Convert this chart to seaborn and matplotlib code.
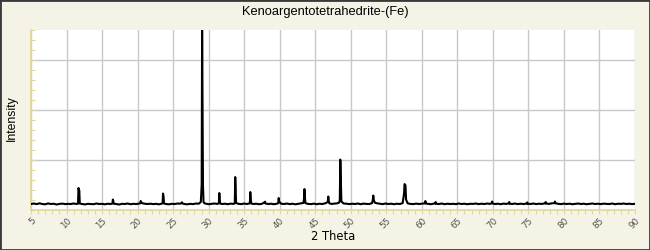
import matplotlib
matplotlib.use("Agg")
import matplotlib.pyplot as plt
import seaborn as sns
import pandas as pd
from matplotlib.patches import Rectangle
from matplotlib.ticker import MultipleLocator

title = "Kenoargentotetrahedrite-(Fe)"
x_label = "2 Theta"
y_label = "Intensity"
x_ticks = [5, 10, 15, 20, 25, 30, 35, 40, 45, 50, 55, 60, 65, 70, 75, 80, 85, 90]

two_theta = [
    5.0, 5.4, 5.8, 6.2, 6.6, 7.0, 7.4, 7.8, 8.2, 8.6,
    9.0, 9.4, 9.8, 10.2, 10.6, 11.0, 11.4, 11.62, 11.68, 11.74,
    11.8, 11.86, 12.2, 12.6, 13.0, 13.4, 13.8, 14.2, 14.6, 15.0,
    15.4, 15.8, 16.2, 16.46, 16.52, 16.58, 16.66, 17.0, 17.4, 17.8,
    18.2, 18.6, 19.0, 19.4, 19.8, 20.2, 20.38, 20.44, 20.52, 20.7,
    21.0, 21.4, 21.8, 22.2, 22.6, 23.0, 23.3, 23.52, 23.58, 23.64,
    23.72, 24.0, 24.4, 24.8, 25.2, 25.6, 26.0, 26.18, 26.25, 26.32,
    26.6, 27.0, 27.4, 27.8, 28.2, 28.6, 28.9, 29.02, 29.08, 29.14,
    29.2, 29.28, 29.4, 29.7, 30.0, 30.4, 30.8, 31.2, 31.44, 31.5,
    31.56, 31.62, 31.9, 32.3, 32.7, 33.1, 33.5, 33.68, 33.74, 33.8,
    33.86, 34.2, 34.6, 35.0, 35.4, 35.8, 35.86, 35.92, 36.0, 36.3,
    36.7, 37.1, 37.5, 37.86, 37.93, 38.0, 38.4, 38.8, 39.2, 39.6,
    39.8, 39.86, 39.92, 40.2, 40.6, 41.0, 41.4, 41.8, 42.2, 42.6,
    43.0, 43.34, 43.42, 43.48, 43.54, 43.62, 44.0, 44.4, 44.8, 45.2,
    45.6, 46.0, 46.4, 46.76, 46.84, 46.9, 46.98, 47.3, 47.7, 48.1,
    48.38, 48.46, 48.53, 48.6, 48.68, 49.0, 49.4, 49.8, 50.2, 50.6,
    51.0, 51.4, 51.8, 52.2, 52.6, 53.0, 53.1, 53.17, 53.24, 53.4,
    53.7, 54.1, 54.5, 54.9, 55.3, 55.7, 56.1, 56.5, 56.9, 57.3,
    57.5, 57.57, 57.63, 57.7, 57.78, 58.0, 58.4, 58.8, 59.2, 59.6,
    60.0, 60.44, 60.5, 60.56, 60.9, 61.3, 61.7, 61.9, 61.95, 62.0,
    62.4, 62.8, 63.2, 63.6, 64.0, 64.4, 64.8, 65.2, 65.6, 66.0,
    66.4, 66.8, 67.2, 67.6, 68.0, 68.4, 68.8, 69.2, 69.6, 69.85,
    69.9, 69.95, 70.3, 70.7, 71.1, 71.5, 71.9, 72.25, 72.3, 72.35,
    72.7, 73.1, 73.5, 73.9, 74.3, 74.8, 74.84, 74.9, 75.3, 75.7,
    76.1, 76.5, 76.9, 77.38, 77.43, 77.48, 77.9, 78.3, 78.68, 78.74,
    78.8, 79.2, 79.6, 80.0, 80.4, 80.8, 81.2, 81.6, 82.0, 82.4,
    82.8, 83.2, 83.6, 84.0, 84.4, 84.8, 85.2, 85.6, 86.0, 86.4,
    86.8, 87.2, 87.6, 88.0, 88.4, 88.8, 89.2, 89.6, 90.0,
]

intensity = [
    55, 60, 54, 62, 55, 52, 61, 55, 58, 50,
    56, 59, 54, 57, 55, 60, 56, 58, 215, 200,
    190, 60, 55, 51, 57, 55, 53, 60, 55, 57,
    52, 58, 55, 60, 100, 85, 58, 55, 50, 57,
    55, 60, 53, 57, 55, 59, 62, 85, 70, 62,
    58, 55, 58, 54, 57, 52, 57, 62, 160, 140,
    60, 55, 52, 57, 55, 60, 58, 66, 72, 60,
    55, 52, 57, 54, 60, 58, 75, 250, 1850, 1060,
    250, 75, 62, 58, 53, 57, 60, 56, 62, 165,
    100, 60, 55, 58, 53, 59, 56, 62, 325, 215,
    65, 57, 54, 60, 55, 62, 175, 110, 60, 55,
    58, 53, 57, 72, 78, 60, 55, 58, 53, 58,
    64, 115, 80, 58, 55, 60, 54, 58, 52, 57,
    61, 66, 110, 205, 130, 64, 56, 54, 59, 53,
    58, 55, 62, 75, 130, 85, 62, 56, 59, 62,
    70, 100, 500, 300, 80, 60, 58, 54, 58, 55,
    60, 53, 59, 56, 55, 64, 95, 140, 95, 68,
    62, 58, 54, 60, 55, 58, 53, 58, 55, 64,
    160, 255, 250, 240, 100, 62, 56, 54, 59, 55,
    58, 62, 85, 60, 56, 53, 59, 62, 75, 57,
    55, 60, 53, 58, 55, 57, 54, 60, 55, 58,
    53, 57, 56, 60, 54, 58, 55, 60, 56, 64,
    80, 60, 55, 58, 53, 59, 56, 62, 75, 58,
    55, 60, 54, 58, 55, 60, 72, 57, 55, 60,
    54, 58, 56, 62, 75, 60, 56, 62, 64, 80,
    62, 57, 54, 59, 55, 58, 53, 57, 60, 55,
    58, 53, 57, 60, 55, 58, 54, 59, 56, 55,
    60, 53, 58, 56, 60, 55, 58, 54, 57,
]

df = pd.DataFrame({"two_theta": two_theta, "intensity": intensity})

sns.set_theme(style="white")
plt.rcParams["font.family"] = ["DejaVu Sans"]

bg = "#f5f3e6"
axis_col = "#e0d89a"
grid_col = "#c8c8c8"

fig = plt.figure(figsize=(6.5, 2.5), dpi=100, facecolor=bg)
ax = fig.add_axes([31 / 650, (250 - 209.5) / 250, 604 / 650, 179.5 / 250])
ax.set_facecolor("white")

sns.lineplot(data=df, x="two_theta", y="intensity", ax=ax, color="black",
             linewidth=1.5, estimator=None, sort=True, zorder=3)

ax.set_xlim(5, 90)
ax.set_ylim(0, 1800)
ax.set_xticks(x_ticks)
ax.set_xticklabels([str(t) for t in x_ticks], rotation=45, ha="right",
                   va="top", rotation_mode="anchor", fontsize=6.3, color="#505050")
ax.xaxis.set_minor_locator(MultipleLocator(1))
ax.set_yticks([500, 1000, 1500])
ax.yaxis.set_minor_locator(MultipleLocator(100))
ax.set_yticklabels([])
ax.grid(True, which="major", color=grid_col, linewidth=1)
ax.set_axisbelow(True)

for s in ["top", "right"]:
    ax.spines[s].set_visible(False)
for s in ["left", "bottom"]:
    ax.spines[s].set_color(axis_col)
    ax.spines[s].set_linewidth(1.2)

ax.tick_params(axis="x", which="both", direction="out", length=3, width=0.8,
               color=axis_col, pad=2, bottom=True)
ax.tick_params(axis="y", which="both", direction="in", length=3, width=0.8,
               color=axis_col, left=True)

ax.set_xlabel("")
ax.set_ylabel("")
fig.text(333 / 650, 1 - 237 / 250, x_label, ha="center", va="center",
         fontsize=8.3, family="DejaVu Sans", color="black")
fig.text(12 / 650, 1 - 118 / 250, y_label, ha="center", va="center",
         rotation=90, fontsize=8.8, family="Liberation Sans", color="black")
fig.text(325 / 650, 1 - 12 / 250, title, ha="center", va="center",
         fontsize=9.3, family="Liberation Sans", color="black")

fig.patches.append(Rectangle((0, 0), 1, 1, transform=fig.transFigure,
                             fill=False, edgecolor="#3a3a3a", linewidth=2,
                             zorder=10))

fig.savefig("out.png", dpi=100, facecolor=bg)
